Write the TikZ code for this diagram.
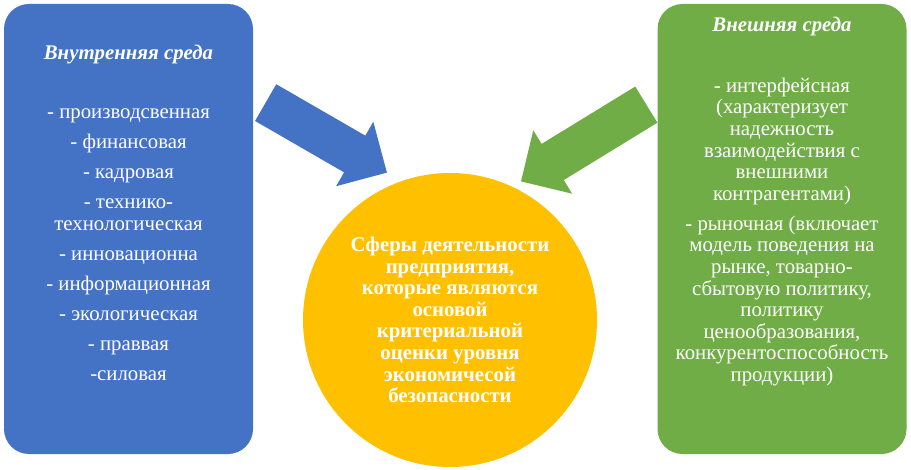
\documentclass[tikz,border=0pt]{standalone}
\usepackage{fontspec}
\setmainfont{Liberation Serif}[Script=Cyrillic]
\usepackage{xcolor}
\usetikzlibrary{shapes.arrows}
\definecolor{boxblue}{HTML}{4472C4}
\definecolor{boxgreen}{HTML}{70AD47}
\definecolor{coregold}{HTML}{FFC000}

\begin{document}
\begin{tikzpicture}[x=1pt, y=-1pt,
    side/.style={rounded corners=25pt, minimum width=249pt, minimum height=450pt, inner sep=0pt},
    words/.style={text=white, align=center, inner sep=0pt, font=\fontsize{20.8}{21.6}\selectfont},
    blockarrow/.style={single arrow, single arrow head extend=16pt, single arrow tip angle=90,
        inner xsep=0pt, inner ysep=21pt, anchor=tail, minimum height=#1}]
    \useasboundingbox (0,0) rectangle (911,470);

    \node[side, fill=boxblue] (inner) at (128.5,229) {};
    \node[side, fill=boxgreen] (outer) at (782,229) {};
    \node[circle, fill=coregold, minimum size=294pt, inner sep=0pt] (core) at (450,320) {};

    \node[words, font=\fontsize{20.8}{21.6}\selectfont\bfseries\itshape] (ititle) at (128.5,55) {Внутренняя среда};
    \node[words] (ilist) at (128.5,245) {- производсвенная\\[8.4pt]
        - финансовая\\[8.4pt]
        - кадровая\\[8.4pt]
        - технико-\\технологическая\\[8.4pt]
        - инновационна\\[8.4pt]
        - информационная\\[8.4pt]
        - экологическая\\[8.4pt]
        - праввая\\[8.4pt]
        -силовая};

    \node[words, font=\fontsize{20.8}{21.6}\selectfont\bfseries\itshape] (otitle) at (782,27) {Внешняя среда};
    \node[words] (olist) at (782,232) {- интерфейсная\\(характеризует\\надежность\\взаимодействия с\\внешними\\контрагентами)\\[8.4pt]
        - рыночная (включает\\модель поведения на\\рынке, товарно-\\сбытовую политику,\\политику\\ценообразования,\\конкурентоспособность\\продукции)};

    \node[words, font=\fontsize{20.8}{21.6}\selectfont\bfseries] (ctext) at (core) {Сферы деятельности\\предприятия,\\которые являются\\основой\\критериальной\\оценки уровня\\экономичесой\\безопасности};

    \coordinate (a) at (265.5,102.5);
    \coordinate (b) at (646.5,104.5);
    \node[blockarrow=140pt, fill=boxblue, rotate=-30] (inarrow) at (a) {};
    \node[blockarrow=147pt, fill=boxgreen, rotate=-148.5] (outarrow) at (b) {};
\end{tikzpicture}
\end{document}
